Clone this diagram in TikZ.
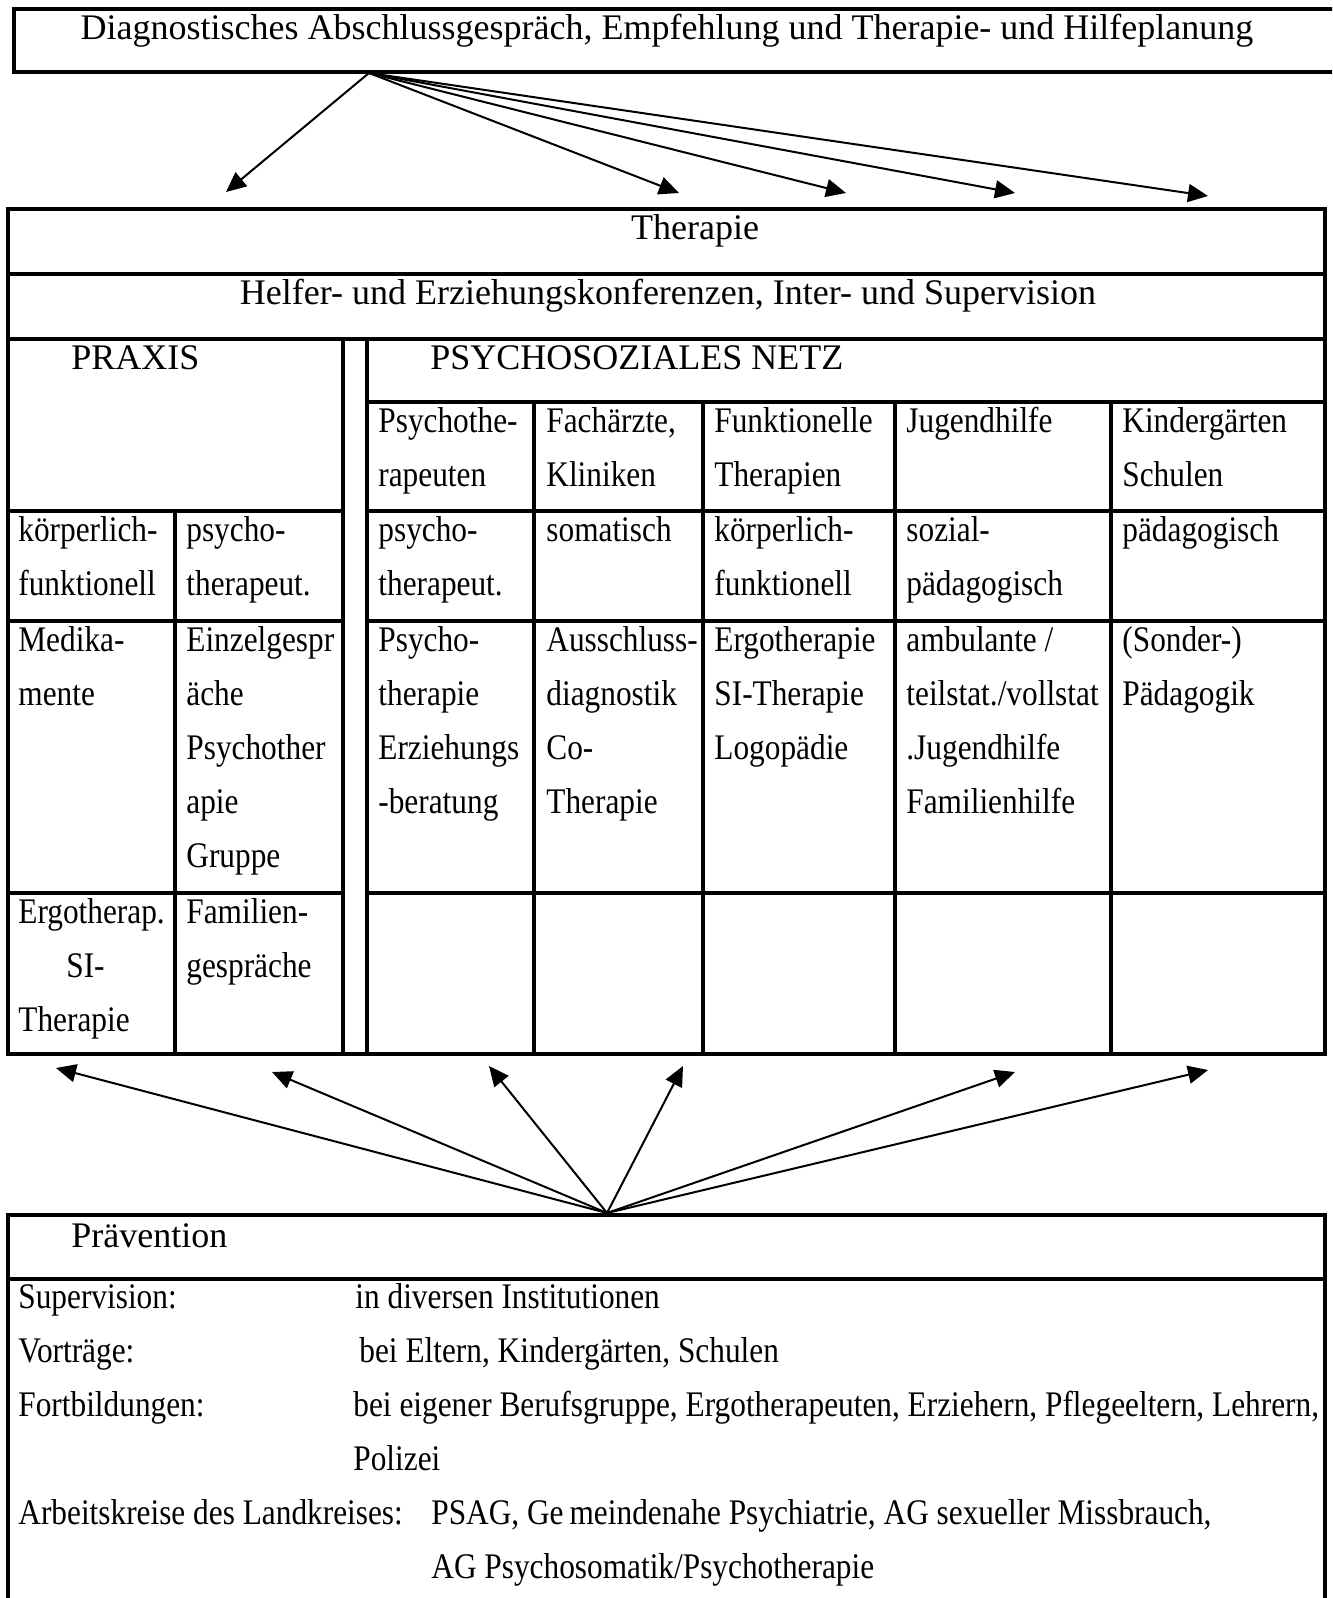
\documentclass[tikz,border=0pt]{standalone}
\usepackage{fontspec}
\setmainfont{Liberation Serif}
\newfontfamily\schmal[FakeStretch=0.87]{Liberation Serif}
\usetikzlibrary{arrows.meta}
\newcommand{\zs}{\rule{0pt}{15pt}}

\begin{document}
\begin{tikzpicture}[x=0.5pt,y=-0.5pt,
    txt/.style={anchor=north west,inner sep=0pt,align=left,font=\schmal\fontsize{18}{27}\selectfont},
    head/.style={txt,font=\rmfamily\fontsize{18}{27}\selectfont},
    rule/.style={line width=2pt},
    pfeil/.style={line width=1pt,-{Triangle[length=10pt,width=9pt]}}]
\useasboundingbox (0,0) rectangle (1332,1598);
\clip (0,0) rectangle (1332,1598);

% Abschlussgespraech
\draw[rule] (14,9) rectangle (1360,72);
\node[head,anchor=north] (diag) at (667,9) {\zs Diagnostisches Abschlussgespräch, Empfehlung und Therapie- und Hilfeplanung};
\coordinate (d0) at (369,73);
\coordinate (t1) at (226,192);
\coordinate (t2) at (679,193);
\coordinate (t3) at (846,193);
\coordinate (t4) at (1015,193);
\coordinate (t5) at (1208,196);
\draw[pfeil] (d0) -- (t1);
\draw[pfeil] (d0) -- (t2);
\draw[pfeil] (d0) -- (t3);
\draw[pfeil] (d0) -- (t4);
\draw[pfeil] (d0) -- (t5);

% Tabelle
\draw[rule] (8,209) rectangle (1325,1054);
\draw[rule] (8,274) -- (1325,274);
\draw[rule] (8,339) -- (1325,339);
\draw[rule] (343,339) -- (343,1054);
\draw[rule] (367,339) -- (367,1054);
\draw[rule] (367,402) -- (1325,402);
\draw[rule] (8,511) -- (343,511) (367,511) -- (1325,511);
\draw[rule] (8,621) -- (343,621) (367,621) -- (1325,621);
\draw[rule] (8,893) -- (343,893) (367,893) -- (1325,893);
\draw[rule] (175,511) -- (175,1054);
\draw[rule] (534,402) -- (534,1054);
\draw[rule] (703,402) -- (703,1054);
\draw[rule] (895,402) -- (895,1054);
\draw[rule] (1111,402) -- (1111,1054);

\node[head,anchor=north] (ther) at (695,209) {\zs Therapie};
\node[head,anchor=north] (helf) at (668,274) {\zs Helfer- und Erziehungskonferenzen, Inter- und Supervision};
\node[head] (praxis) at (71,339) {\zs PRAXIS};
\node[head] (netz) at (430,339) {\zs PSYCHOSOZIALES NETZ};

\node[txt] (h1) at (378,402) {\zs Psychothe-\\rapeuten};
\node[txt] (h2) at (546,402) {\zs Fachärzte,\\Kliniken};
\node[txt] (h3) at (714,402) {\zs Funktionelle\\Therapien};
\node[txt] (h4) at (906,402) {\zs Jugendhilfe};
\node[txt] (h5) at (1122,402) {\zs Kindergärten\\Schulen};

\node[txt] (a1) at (18,511) {\zs körperlich-\\funktionell};
\node[txt] (a2) at (186,511) {\zs psycho-\\therapeut.};
\node[txt] (a3) at (378,511) {\zs psycho-\\therapeut.};
\node[txt] (a4) at (546,511) {\zs somatisch};
\node[txt] (a5) at (714,511) {\zs körperlich-\\funktionell};
\node[txt] (a6) at (906,511) {\zs sozial-\\pädagogisch};
\node[txt] (a7) at (1122,511) {\zs pädagogisch};

\node[txt] (b1) at (18,621) {\zs Medika-\\mente};
\node[txt] (b2) at (186,621) {\zs Einzelgespr\\äche\\Psychother\\apie\\Gruppe};
\node[txt] (b3) at (378,621) {\zs Psycho-\\therapie\\Erziehungs\\-beratung};
\node[txt] (b4) at (546,621) {\zs Ausschluss-\\diagnostik\\Co-\\Therapie};
\node[txt] (b5) at (714,621) {\zs Ergotherapie\\SI-Therapie\\Logopädie};
\node[txt] (b6) at (906,621) {\zs ambulante /\\teilstat./vollstat\\.Jugendhilfe\\Familienhilfe};
\node[txt] (b7) at (1122,621) {\zs (Sonder-)\\Pädagogik};

\node[txt] (c1) at (18,893) {\zs Ergotherap.\\\hspace*{24pt}SI-\\Therapie};
\node[txt] (c2) at (186,893) {\zs Familien-\\gespräche};

% Praevention
\coordinate (p0) at (607,1213);
\coordinate (u1) at (56,1068);
\coordinate (u2) at (272,1072);
\coordinate (u3) at (489,1066);
\coordinate (u4) at (683,1066);
\coordinate (u5) at (1015,1072);
\coordinate (u6) at (1208,1070);
\draw[pfeil] (p0) -- (u1);
\draw[pfeil] (p0) -- (u2);
\draw[pfeil] (p0) -- (u3);
\draw[pfeil] (p0) -- (u4);
\draw[pfeil] (p0) -- (u5);
\draw[pfeil] (p0) -- (u6);

\draw[rule] (8,1215) rectangle (1325,1640);
\draw[rule] (8,1279) -- (1325,1279);
\node[head] (praev) at (71,1217) {\zs Prävention};

\node[txt] (l1) at (18,1278) {\zs Supervision:};
\node[txt] (l2) at (18,1332) {\zs Vorträge:};
\node[txt] (l3) at (18,1386) {\zs Fortbildungen:};
\node[txt] (l4) at (18,1494) {\zs Arbeitskreise des Landkreises:};
\node[txt] (v1) at (355,1278) {\zs in diversen Institutionen};
\node[txt] (v2) at (359,1332) {\zs bei Eltern, Kindergärten, Schulen};
\node[txt] (v3) at (353,1386) {\zs bei eigener Berufsgruppe, Ergotherapeuten, Erziehern, Pflegeeltern, Lehrern,\\Polizei};
\node[txt] (v4) at (431,1494) {\zs PSAG, Ge\,meindenahe Psychiatrie, AG sexueller Missbrauch,\\AG Psychosomatik/Psychotherapie};
\end{tikzpicture}
\end{document}
